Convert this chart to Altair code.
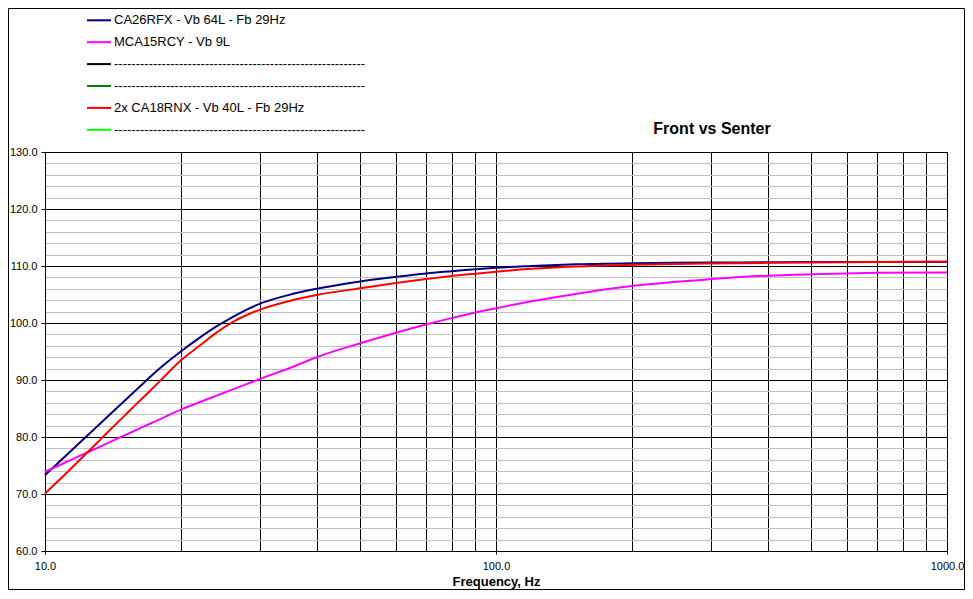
import altair as alt
import pandas as pd

# ---- data ----
freq = [10, 11, 12, 13, 14, 15, 16, 17, 18, 20, 22, 24, 26, 28, 30, 35, 40, 50,
        60, 70, 80, 90, 100, 120, 150, 200, 300, 400, 500, 700, 1000]
ca26rfx = [73.3, 76.36, 79.16, 81.73, 84.11, 86.33, 88.4, 90.35, 92.1, 95.0, 97.4,
           99.4, 101.0, 102.35, 103.4, 105.0, 106.0, 107.3, 108.1, 108.7, 109.1,
           109.45, 109.7, 110.0, 110.3, 110.5, 110.6, 110.65, 110.7, 110.7, 110.7]
mca15rcy = [73.9, 75.4, 76.77, 78.02, 79.19, 80.27, 81.29, 82.24, 83.14, 84.8, 86.1,
            87.25, 88.3, 89.28, 90.2, 92.15, 94.0, 96.45, 98.3, 99.75, 100.9, 101.85,
            102.6, 103.8, 105.1, 106.5, 107.7, 108.3, 108.55, 108.8, 108.88]
ca18rnx = [70.1, 73.2, 76.15, 78.85, 81.4, 83.7, 85.9, 87.9, 89.85, 93.4, 96.0, 98.3,
           100.1, 101.4, 102.35, 103.9, 104.9, 106.1, 107.0, 107.7, 108.25, 108.65,
           109.0, 109.5, 109.9, 110.2, 110.45, 110.55, 110.6, 110.7, 110.8]

series_names = ["CA26RFX - Vb 64L - Fb 29Hz", "MCA15RCY - Vb 9L", "Series 3",
                "Series 4", "2x CA18RNX  - Vb 40L - Fb 29Hz", "Series 6"]
series_colors = ["#000080", "#FF00FF", "#000000", "#008000", "#FF0000", "#00FF00"]

x_grid = [10, 20, 30, 40, 50, 60, 70, 80, 90, 100, 200, 300, 400, 500, 600, 700,
          800, 900, 1000]
y_grid = list(range(60, 131, 2))

chart_title = "Front vs Senter"
x_title = "Frequency, Hz"
empty_label = "-" * 58

rows = []
for name, vals in [(series_names[0], ca26rfx), (series_names[1], mca15rcy),
                   (series_names[4], ca18rnx)]:
    for f, v in zip(freq, vals):
        rows.append({"series": name, "freq": f, "spl": v,
                     "order": series_names.index(name)})
df = pd.DataFrame(rows)

FONT = "Liberation Sans"

major_x = "datum.value==10||datum.value==100||datum.value==1000"
major_y = "datum.value % 10 == 0"

x_axis = alt.Axis(
    values=x_grid,
    labelExpr=f"({major_x}) ? format(datum.value, '.1f') : ''",
    labelFlush=False, labelOverlap=False, labelFont=FONT, labelFontSize=11,
    labelColor="black", labelPadding=6,
    tickSize=3, tickColor="black",
    tickOpacity={"condition": {"test": major_x, "value": 1}, "value": 0},
    grid=True, gridColor="black", gridOpacity=1, gridWidth=1,
    domainColor="black",
    title=x_title, titleFont=FONT, titleFontSize=13, titleFontWeight="bold",
    titleColor="black", titleY=34, titleBaseline="alphabetic",
)
y_axis = alt.Axis(
    values=y_grid,
    labelExpr=f"({major_y}) ? format(datum.value, '.1f') : ''",
    labelOverlap=False, labelFont=FONT, labelFontSize=11, labelColor="black",
    labelPadding=4, tickSize=4, tickColor="black",
    tickOpacity={"condition": {"test": major_y, "value": 1}, "value": 0},
    grid=True, gridOpacity=1, gridWidth=1,
    gridColor={"condition": {"test": major_y, "value": "black"}, "value": "#c0c0c0"},
    domainColor="black", title=None,
)

legend = alt.Legend(
    orient="none", legendX=41, legendY=-144.7, title=None,
    symbolType="stroke", symbolSize=576, symbolStrokeWidth=2,
    labelFont=FONT, labelFontSize=13, labelColor="black", labelOffset=2,
    labelLimit=0, rowPadding=1.9, padding=0,
    labelExpr=f"indexof(datum.label, 'Series') == 0 ? '{empty_label}' : datum.label",
)

lines = alt.Chart(df).mark_line(strokeWidth=2, interpolate="monotone").encode(
    x=alt.X("freq:Q", scale=alt.Scale(type="log", domain=[10, 1000], nice=False),
            axis=x_axis),
    y=alt.Y("spl:Q", scale=alt.Scale(domain=[60, 130], nice=False, zero=False),
            axis=y_axis),
    color=alt.Color("series:N",
                    scale=alt.Scale(domain=series_names, range=series_colors),
                    sort=series_names, legend=legend),
    order=alt.Order("order:Q"),
)

border = alt.Chart(pd.DataFrame({"b": [0]})).mark_rect(
    fill="white", fillOpacity=0, stroke="black", strokeWidth=1
).encode(
    x=alt.value(-36.5), x2=alt.value(919.5),
    y=alt.value(-143.5), y2=alt.value(437.5),
)

title_text = alt.Chart(pd.DataFrame({"t": [chart_title]})).mark_text(
    font=FONT, fontSize=16, fontWeight="bold", color="black",
    align="center", baseline="alphabetic"
).encode(text="t:N", x=alt.value(667), y=alt.value(-18.5))

chart = alt.layer(border, lines, title_text).properties(
    width=902, height=399,
    autosize=alt.AutoSizeParams(type="none"),
    padding={"left": 37, "top": 144, "right": 18, "bottom": 39},
    background="white",
).configure_view(stroke="black", strokeWidth=1)

chart.save("out.html", embed_options={"renderer": "svg", "actions": False})
